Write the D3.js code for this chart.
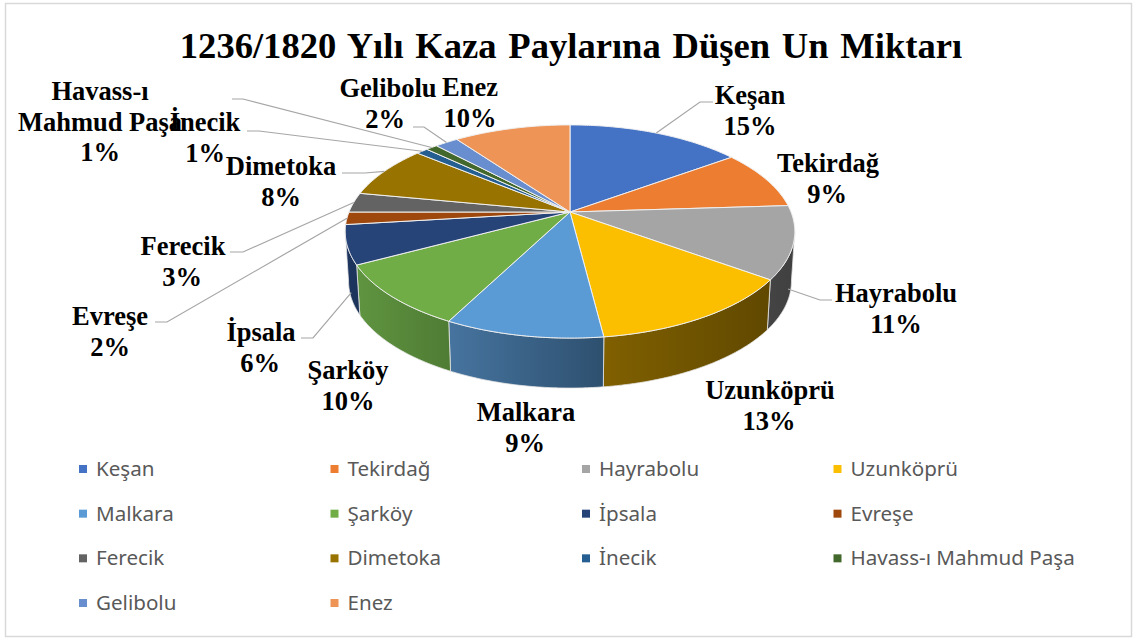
<!DOCTYPE html>
<html><head><meta charset="utf-8">
<script src="https://cdn.jsdelivr.net/npm/d3@7/dist/d3.min.js"></script>
<style>html,body{margin:0;padding:0;background:#fff}svg{display:block}</style>
</head><body><svg id="c" width="1136" height="639"></svg>
<script>
const categories=["Keşan","Tekirdağ","Hayrabolu","Uzunköprü","Malkara","Şarköy","İpsala","Evreşe","Ferecik","Dimetoka","İnecik","Havass-ı Mahmud Paşa","Gelibolu","Enez"];
const values=[15,9,11,13,9.6,9.6,5.9,1.9,3,8,1,1,2,10];
const percentLabels=["15%","9%","11%","13%","9%","10%","6%","2%","3%","8%","1%","1%","2%","10%"];
const colors=["#4472C4","#ED7D31","#A5A5A5","#FBBF00","#5B9BD5","#70AD47","#264478","#9E480E","#636363","#997300","#255E91","#43682B","#698ED0","#EE9456"];
const sideFrom=["#29446f","#8e4b1d","#444444","#806000","#46749f","#5f9440","#1e3660","#5e2b08","#3b3b3b","#5b4500","#163854","#283e19","#3f5580","#90593a"];
const sideTo=["#29446f","#8e4b1d","#404040","#604800","#2e506f","#4f7c34","#1c3359","#5e2b08","#3b3b3b","#5b4500","#163854","#283e19","#3f5580","#90593a"];
const titleText="1236/1820 Yılı Kaza Paylarına Düşen Un Miktarı";

// layout of the data labels: text lines with centre x and baselines
const labelLayout=[
 {lines:["Keşan"],cx:750,y:104,pcx:750},
 {lines:["Tekirdağ"],cx:828,y:172,pcx:827},
 {lines:["Hayrabolu"],cx:896,y:302,pcx:896},
 {lines:["Uzunköprü"],cx:770,y:399,pcx:769},
 {lines:["Malkara"],cx:526,y:421,pcx:525},
 {lines:["Şarköy"],cx:348,y:379,pcx:348},
 {lines:["İpsala"],cx:261,y:341,pcx:260},
 {lines:["Evreşe"],cx:110,y:325,pcx:110},
 {lines:["Ferecik"],cx:183,y:255,pcx:182},
 {lines:["Dimetoka"],cx:281,y:175,pcx:281},
 {lines:["İnecik"],cx:205,y:131,pcx:205},
 {lines:["Havass-ı","Mahmud Paşa"],cx:100,y:100,pcx:100},
 {lines:["Gelibolu"],cx:388,y:97,pcx:385},
 {lines:["Enez"],cx:470,y:96,pcx:470}
];
// leader lines: label-side end, elbow; the pie end comes from the slice angle
const leaderLayout={0:[[713,102],[700,102]],2:[[832,300],[820,300]],6:[[301,338],[313,338]],7:[[155,322],[167,322]],8:[[230,252],[243,252]],9:[[342,173],[365,173]],10:[[247,131],[259,131]],11:[[232,99],[243,99]],12:[[413,127],[424,127]]};

const svg=d3.select("#c");
const cx=570,cy=212,R=221,A=103,K=0.183,DEPTH=50,BX=0.985;
const rim=(t,bottom)=>{const d=1+K*Math.cos(t);
  return [cx+(bottom?BX:1)*R*Math.sin(t)/d, cy-A*Math.cos(t)/d+(bottom?DEPTH:0)];};
const pie=d3.pie().sort(null).value(d=>d)(values);
const color=d3.scaleOrdinal(categories,colors);
const line=d3.line();
const arcPts=(a0,a1,b)=>{const n=Math.max(2,Math.ceil((a1-a0)/0.01));
  return d3.range(n+1).map(i=>rim(a0+(a1-a0)*i/n,b));};

svg.append("rect").attr("x",5.5).attr("y",3.5).attr("width",1126).attr("height",633)
  .attr("fill","#fff").attr("stroke","#d9d9d9").attr("stroke-width",1.5);

const defs=svg.append("defs");
const vis0=Math.acos(-K),vis1=2*Math.PI-vis0;
// sides
pie.forEach((s,i)=>{
  const a0=Math.max(s.startAngle,vis0),a1=Math.min(s.endAngle,vis1);
  if(a1<=a0)return;
  const g=defs.append("linearGradient").attr("id","g"+i);
  g.append("stop").attr("offset",0).attr("stop-color",sideFrom[i]);
  g.append("stop").attr("offset",1).attr("stop-color",sideTo[i]);
  const pts=arcPts(a0,a1,false).concat(arcPts(a0,a1,true).reverse());
  svg.append("path").attr("d",line(pts)+"Z").attr("fill",`url(#g${i})`)
    .attr("stroke","#e6e6e6").attr("stroke-width",.8).attr("stroke-linejoin","round");
});
// top face
pie.forEach((s,i)=>{
  const pts=[[cx,cy]].concat(arcPts(s.startAngle,s.endAngle,false));
  svg.append("path").attr("d",line(pts)+"Z").attr("fill",color(categories[i]))
    .attr("stroke","#f0f0f0").attr("stroke-width",1).attr("stroke-linejoin","round");
});
// leaders
Object.keys(leaderLayout).forEach(k=>{
  const s=pie[k],mid=(s.startAngle+s.endAngle)/2;
  const end=(mid>vis0&&mid<vis1)?rim(mid,true):rim(mid,false);
  let e=end;
  if(+k===6) e=[end[0]+1,end[1]-2];
  if(+k===2) e=[788,289];
  svg.append("path").attr("d",line(leaderLayout[k].concat([e]))).attr("fill","none")
    .attr("stroke","#a6a6a6").attr("stroke-width",1.2);
});
// title
svg.append("text").attr("x",571).attr("y",58).attr("text-anchor","middle")
  .attr("font-family","Liberation Serif").attr("font-weight",700).attr("font-size",36.6)
  .attr("word-spacing",2.6).attr("fill","#000").text(titleText);
// data labels
const LH=30.5;
labelLayout.forEach((l,i)=>{
  const t=svg.append("g").attr("font-family","Liberation Serif").attr("font-weight",700)
    .attr("font-size",26.5).attr("text-anchor","middle").attr("fill","#000");
  l.lines.forEach((ln,j)=>t.append("text").attr("x",l.cx).attr("y",l.y+j*LH).text(ln));
  t.append("text").attr("x",l.pcx).attr("y",l.y+l.lines.length*LH).text(percentLabels[i]);
});
// legend
const colX=d3.scalePoint().domain(d3.range(4)).range([79,833.5]);
const rowY=d3.scalePoint().domain(d3.range(4)).range([469,603]);
categories.forEach((c,i)=>{
  const col=i%4,row=Math.floor(i/4);
  svg.append("rect").attr("x",colX(col)).attr("y",rowY(row)-4).attr("width",8).attr("height",8).attr("fill",color(c));
  svg.append("text").attr("x",colX(col)+17).attr("y",rowY(row)+7).attr("font-family","Noto Sans")
    .attr("font-size",20.6).attr("fill","#595959").text(c);
});
</script></body></html>
